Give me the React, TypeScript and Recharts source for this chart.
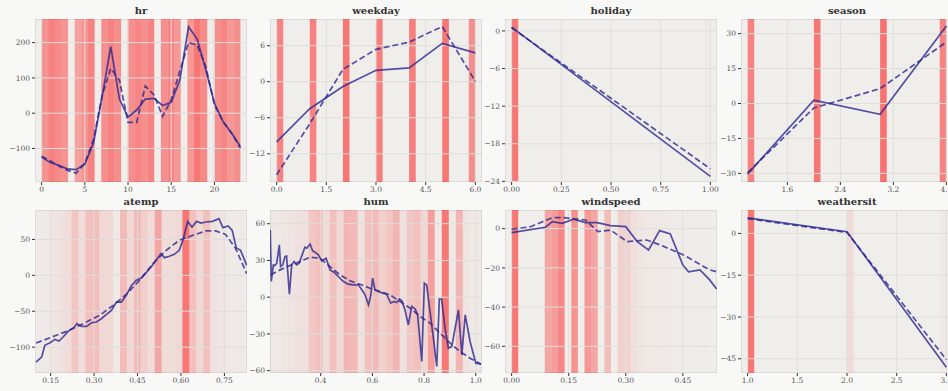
import React from 'react';
import { ComposedChart, Line, XAxis, YAxis, ReferenceArea, ReferenceLine } from 'recharts';

const FONT = '"DejaVu Serif", serif';
const LINE_COLOR = '#2b2790';
const BAND_COLOR = '#ff0000';
const GRID_COLOR = '#dfdedb';
const PLOT_BG = '#efeeeb';
const PAGE_BG = '#f8f8f7';
const TICK_COLOR = '#555555';

const COL_LEFT = [35, 270, 505, 741];
const ROW_TOP = [19, 210];
const PLOT_W = 212;
const PLOT_H = 163;
const Y_W = 34;
const X_H = 16;
const R_PAD = 14; // room for the last x tick label

// ---- hr ----
const HR_X = [0, 1, 2, 3, 4, 5, 6, 7, 8, 9, 10, 11, 12, 13, 14, 15, 16, 17, 18, 19, 20, 21, 22, 23];
const HR_FIT = [-124, -140, -148, -158, -160, -144, -85, 47, 189, 40, -11, 9, 40, 42, 22, 31, 94, 245, 210, 123, 28, -24, -57, -94];
const HR_REF = [-122, -135, -150, -162, -170, -142, -75, 50, 127, 94, -26, -26, 77, 52, -9, 38, 120, 200, 193, 132, 24, -24, -57, -99];
const HR_BAND_ALPHA = [
  0.38, 0.46, 0.42, 0.38, 0, 0.32, 0.38, 0.45, 0, 0.4, 0.46, 0.4, 0, 0.4, 0.44,
  0.4, 0.45, 0, 0.4, 0.44, 0.36, 0, 0.36, 0.5, 0.42, 0, 0.4, 0.44, 0.36, 0.4,
];

// ---- weekday ----
const WEEKDAY_X = [0, 1, 2, 3, 4, 5, 6];
const WEEKDAY_FIT = [-10.0, -4.5, -0.8, 1.9, 2.3, 6.4, 4.8];
const WEEKDAY_REF = [-15.5, -7.0, 2.05, 5.4, 6.6, 9.2, 0.05];
const WEEKDAY_BAND_EDGE = [0, 1, 2, 3, 4, 5, 5.8];
const WEEKDAY_BAND_ALPHA = [0.45, 0.45, 0.5, 0.47, 0.47, 0.5, 0.4];

// ---- holiday ----
const HOLIDAY_X = [0, 1];
const HOLIDAY_FIT = [0.6, -23.2];
const HOLIDAY_REF = [0.5, -22.0];
const HOLIDAY_BAND_EDGE = [0, 0.9667];
const HOLIDAY_BAND_ALPHA = [0.5, 0.01];

// ---- season ----
const SEASON_X = [1, 2, 3, 4];
const SEASON_FIT = [-30.3, 1.4, -4.6, 33.3];
const SEASON_REF = [-29.7, -1.9, 6.4, 26.4];
const SEASON_BAND_EDGE = [1, 2, 3, 3.9];
const SEASON_BAND_ALPHA = [0.45, 0.5, 0.52, 0.45];

// ---- atemp ----
const ATEMP_FIT_X = [
  0.0995, 0.119, 0.13, 0.148, 0.165, 0.179, 0.193, 0.21, 0.23, 0.241, 0.256, 0.274, 0.291, 0.308,
  0.325, 0.342, 0.36, 0.377, 0.394, 0.411, 0.428, 0.445, 0.463, 0.48, 0.497, 0.514, 0.531, 0.543,
  0.56, 0.577, 0.594, 0.608, 0.623, 0.638, 0.654, 0.669, 0.686, 0.709, 0.731, 0.745, 0.763, 0.777,
  0.791, 0.806, 0.827,
];
const ATEMP_FIT_Y = [
  -120.8, -113.8, -97.5, -93.8, -89.2, -91.5, -85.9, -78, -72.9, -67.3, -71.1, -71.1, -66, -65,
  -60.4, -54.8, -48.8, -37.2, -37.2, -27.9, -14.9, -7, -3.7, 3.7, 11.6, 20.9, 30.2, 24.6,
  26.5, 29.3, 34.8, 50.2, 75.2, 67.3, 75.2, 72.9, 74.3, 75.2, 79, 66.4, 68.7, 62.7,
  38.1, 34.8, 13.9,
];
const ATEMP_REF_X = [0.0995, 0.205, 0.262, 0.319, 0.366, 0.411, 0.457, 0.503, 0.549, 0.594, 0.64, 0.686, 0.72, 0.754, 0.789, 0.827];
const ATEMP_REF_Y = [-94.3, -78, -67.3, -55.7, -41.8, -26.5, -7, 16.3, 34.8, 48.8, 55.7, 61.8, 61.8, 57.1, 37.2, 2.3];
const ATEMP_BIN_START = 0.10235;
const ATEMP_BIN_WIDTH = 0.02393;
const ATEMP_BAND_ALPHA = [
  0.015, 0.015, 0.03, 0.05, 0.07, 0.17, 0.07, 0.19, 0.2, 0.09, 0.09, 0.02, 0.21, 0.09, 0.21,
  0.13, 0.07, 0.3, 0.07, 0.07, 0.09, 0.5, 0.19, 0.09, 0.19, 0.05, 0.03, 0.02, 0.015, 0.015,
];

// ---- hum ----
const HUM_FIT_X = [
  0.205, 0.209, 0.217, 0.223, 0.23, 0.24, 0.245, 0.253, 0.262, 0.268, 0.279, 0.288, 0.297, 0.307,
  0.317, 0.326, 0.339, 0.346, 0.359, 0.369, 0.378, 0.391, 0.404, 0.421, 0.436, 0.452, 0.468, 0.488,
  0.507, 0.526, 0.546, 0.559, 0.572, 0.585, 0.594, 0.601, 0.61, 0.623, 0.64, 0.655, 0.671, 0.684,
  0.694, 0.705, 0.714, 0.726, 0.739, 0.752, 0.765, 0.775, 0.791, 0.801, 0.81, 0.823, 0.836, 0.849,
  0.859, 0.868, 0.881, 0.894, 0.907, 0.933, 0.946, 0.959, 0.978, 1.0, 1.02,
];
const HUM_FIT_Y = [
  55, 13, 26.4, 25.9, 27.8, 42.7, 25, 26.4, 33.2, 33.7, 2.4, 26.4, 29.1, 26.4,
  27.8, 33.2, 40.8, 40, 43.3, 37.8, 36.7, 34.6, 29.7, 31.8, 22.3, 20.4, 16.9, 12.8,
  10.6, 10.1, 10.1, 6, 1.9, -6.3, 1.9, 15.5, 6, 4.6, 3.3, 2.4, -4.9, -3.5,
  -4.4, -1.4, -3, -10.3, -22.6, -7.6, -9.5, -14.4, -52.5, 11.4, 10, -11.7, -33.5, -56.6,
  -1.4, -1.6, -25.3, -41.6, -40.3, -10.3, -47.1, -14.4, -36.2, -53.9, -54.4,
];
const HUM_REF_X = [
  0.2065, 0.243, 0.281, 0.32, 0.359, 0.397, 0.436, 0.475, 0.514, 0.552, 0.591, 0.63, 0.668, 0.707,
  0.746, 0.785, 0.823, 0.862, 0.901, 0.939, 0.978, 1.02,
];
const HUM_REF_Y = [
  18.2, 22.3, 25.9, 29.1, 32.7, 31.8, 25, 18.2, 13.3, 10.6, 7.3, 4.6, 1.9, -3.5,
  -9, -15.8, -21.2, -29.4, -37.6, -44.4, -49.8, -54.8,
];
const HUM_BIN_START = 0.1909;
const HUM_BIN_WIDTH = 0.0271;
const HUM_BAND_ALPHA = [
  0.02, 0.02, 0.03, 0.04, 0.05, 0.06, 0.17, 0.19, 0.07, 0.19, 0.09, 0.24, 0.22, 0.05, 0.19, 0.21,
  0.12, 0.17, 0.24, 0.05, 0.16, 0.19, 0.09, 0.33, 0.02, 0.5, 0.02, 0.24, 0.04, 0.02, 0.02,
];

// ---- windspeed ----
const WIND_FIT_X = [0, 0.089, 0.107, 0.133, 0.163, 0.194, 0.225, 0.26, 0.3, 0.33, 0.36, 0.389, 0.417, 0.45, 0.465, 0.495, 0.52, 0.539];
const WIND_FIT_Y = [-2.0, 0.7, 3.6, 2.7, 4.8, 3.1, 3.1, 1.5, 1.0, -6.6, -10.9, -1.0, -2.7, -18.5, -22, -21, -26, -30.8];
const WIND_REF_X = [0, 0.05, 0.107, 0.137, 0.194, 0.227, 0.26, 0.303, 0.355, 0.39, 0.452, 0.52, 0.539];
const WIND_REF_Y = [-0.3, 1.0, 5.6, 5.6, 4.4, -1.5, -0.7, -6.6, -5.8, -8.3, -13.4, -21, -22];
const WIND_BIN_START = 0;
const WIND_BIN_WIDTH = 0.017413;
const WIND_BAND_ALPHA = [
  0.5, 0, 0, 0, 0, 0.3, 0.34, 0.43, 0, 0.38, 0, 0.36, 0.3, 0, 0.2,
  0, 0.12, 0.11, 0.06, 0.035, 0.025, 0.02, 0.018, 0.015, 0.012, 0.01, 0.01, 0.008, 0.008, 0.008,
];

// ---- weathersit ----
const WEATHER_X = [1, 2, 3];
const WEATHER_FIT = [5.6, 0.6, -48];
const WEATHER_REF = [5.3, 0.35, -45.3];
const WEATHER_BAND_EDGE = [1, 2, 2.9333];
const WEATHER_BAND_ALPHA = [0.5, 0.08, 0.02];

type Pt = { x: number; y: number };
type Band = { x1: number; x2: number; a: number };
type Panel = {
  title: string;
  col: number;
  row: number;
  xDomain: [number, number];
  xTicks: number[];
  xDigits: number;
  yDomain: [number, number];
  yTicks: number[];
  bands: Band[];
  fit: Pt[];
  ref: Pt[];
};

const pts = (x: number[], y: number[]): Pt[] => x.map((v, i) => ({ x: v, y: y[i] }));
const binBands = (start: number, width: number, alpha: number[]): Band[] =>
  alpha.map((a, i) => ({ x1: start + i * width, x2: start + (i + 1) * width, a })).filter((b) => b.a > 0);
const edgeBands = (edges: number[], width: number, alpha: number[]): Band[] =>
  edges.map((e, i) => ({ x1: e, x2: e + width, a: alpha[i] }));
const fmt = (digits: number) => (v: number) => v.toFixed(digits).replace('-', '\u2212');

const PANELS: Panel[] = [
  {
    title: 'hr', col: 0, row: 0,
    xDomain: [-0.767, 23.767], xTicks: [0, 5, 10, 15, 20], xDigits: 0,
    yDomain: [-195, 267], yTicks: [-100, 0, 100, 200],
    bands: binBands(0, 23 / 30, HR_BAND_ALPHA),
    fit: pts(HR_X, HR_FIT), ref: pts(HR_X, HR_REF),
  },
  {
    title: 'weekday', col: 1, row: 0,
    xDomain: [-0.2, 6.2], xTicks: [0, 1.5, 3, 4.5, 6], xDigits: 1,
    yDomain: [-16.7, 10.45], yTicks: [-12, -6, 0, 6],
    bands: edgeBands(WEEKDAY_BAND_EDGE, 0.2, WEEKDAY_BAND_ALPHA),
    fit: pts(WEEKDAY_X, WEEKDAY_FIT), ref: pts(WEEKDAY_X, WEEKDAY_REF),
  },
  {
    title: 'holiday', col: 2, row: 0,
    xDomain: [-0.0333, 1.0333], xTicks: [0, 0.25, 0.5, 0.75, 1], xDigits: 2,
    yDomain: [-24.1, 1.9], yTicks: [-24, -18, -12, -6, 0],
    bands: edgeBands(HOLIDAY_BAND_EDGE, 1 / 30, HOLIDAY_BAND_ALPHA),
    fit: pts(HOLIDAY_X, HOLIDAY_FIT), ref: pts(HOLIDAY_X, HOLIDAY_REF),
  },
  {
    title: 'season', col: 3, row: 0,
    xDomain: [0.9, 4.1], xTicks: [1.6, 2.4, 3.2, 4], xDigits: 1,
    yDomain: [-33.7, 36.3], yTicks: [-30, -15, 0, 15, 30],
    bands: edgeBands(SEASON_BAND_EDGE, 0.1, SEASON_BAND_ALPHA),
    fit: pts(SEASON_X, SEASON_FIT), ref: pts(SEASON_X, SEASON_REF),
  },
  {
    title: 'atemp', col: 0, row: 1,
    xDomain: [0.096, 0.828], xTicks: [0.15, 0.3, 0.45, 0.6, 0.75], xDigits: 2,
    yDomain: [-136, 91], yTicks: [-100, -50, 0, 50],
    bands: binBands(ATEMP_BIN_START, ATEMP_BIN_WIDTH, ATEMP_BAND_ALPHA),
    fit: pts(ATEMP_FIT_X, ATEMP_FIT_Y), ref: pts(ATEMP_REF_X, ATEMP_REF_Y),
  },
  {
    title: 'hum', col: 1, row: 1,
    xDomain: [0.204, 1.024], xTicks: [0.4, 0.6, 0.8, 1.0], xDigits: 1,
    yDomain: [-61.9, 71.2], yTicks: [-60, -30, 0, 30, 60],
    bands: binBands(HUM_BIN_START, HUM_BIN_WIDTH, HUM_BAND_ALPHA),
    fit: pts(HUM_FIT_X, HUM_FIT_Y), ref: pts(HUM_REF_X, HUM_REF_Y),
  },
  {
    title: 'windspeed', col: 2, row: 1,
    xDomain: [-0.0174, 0.5398], xTicks: [0, 0.15, 0.3, 0.45], xDigits: 2,
    yDomain: [-73.6, 9.5], yTicks: [-60, -40, -20, 0],
    bands: binBands(WIND_BIN_START, WIND_BIN_WIDTH, WIND_BAND_ALPHA),
    fit: pts(WIND_FIT_X, WIND_FIT_Y), ref: pts(WIND_REF_X, WIND_REF_Y),
  },
  {
    title: 'weathersit', col: 3, row: 1,
    xDomain: [0.9333, 3.0667], xTicks: [1, 1.5, 2, 2.5, 3], xDigits: 1,
    yDomain: [-50.1, 8.4], yTicks: [-45, -30, -15, 0],
    bands: edgeBands(WEATHER_BAND_EDGE, 2 / 30, WEATHER_BAND_ALPHA),
    fit: pts(WEATHER_X, WEATHER_FIT), ref: pts(WEATHER_X, WEATHER_REF),
  },
];

const tickStyle = { fontSize: 7.5, fill: TICK_COLOR, fontFamily: FONT };

function PartialPlot({ p }: { p: Panel }) {
  const left = COL_LEFT[p.col];
  const top = ROW_TOP[p.row];
  return (
    <>
      <div
        style={{
          position: 'absolute', left, top, width: PLOT_W, height: PLOT_H,
          background: PLOT_BG, boxShadow: 'inset 0 0 0 1px #dcdbd7',
        }}
      />
      <div
        style={{
          position: 'absolute', left, top: top - 14, width: PLOT_W, height: 12,
          lineHeight: '12px', textAlign: 'center', fontFamily: FONT,
          fontWeight: 'bold', fontSize: 10, color: '#333',
        }}
      >
        {p.title}
      </div>
      <div style={{ position: 'absolute', left: left - Y_W, top }}>
        <ComposedChart
          width={Y_W + PLOT_W + R_PAD}
          height={PLOT_H + X_H}
          margin={{ top: 0, right: R_PAD, bottom: 0, left: 0 }}
        >
          <XAxis
            type="number" dataKey="x" domain={p.xDomain} ticks={p.xTicks} interval={0}
            allowDataOverflow height={X_H} axisLine={false} tickSize={3}
            tickLine={{ stroke: '#333' }} tick={tickStyle} tickFormatter={fmt(p.xDigits)}
          />
          <YAxis
            type="number" domain={p.yDomain} ticks={p.yTicks} interval={0}
            allowDataOverflow width={Y_W} axisLine={false} tickSize={3}
            tickLine={{ stroke: '#333' }} tick={tickStyle} tickFormatter={fmt(0)}
          />
          {p.bands.map((b, i) => (
            <ReferenceArea
              key={'b' + i} x1={b.x1} x2={b.x2} fill={BAND_COLOR} fillOpacity={b.a}
              stroke="none" ifOverflow="hidden"
            />
          ))}
          {p.xTicks.map((t) => (
            <ReferenceLine key={'gx' + t} x={t} stroke={GRID_COLOR} strokeWidth={1} ifOverflow="hidden" />
          ))}
          {p.yTicks.map((t) => (
            <ReferenceLine key={'gy' + t} y={t} stroke={GRID_COLOR} strokeWidth={1} ifOverflow="hidden" />
          ))}
          <Line
            data={p.fit} dataKey="y" type="linear" dot={false} stroke={LINE_COLOR}
            strokeOpacity={0.8} strokeWidth={1.7} isAnimationActive={false}
          />
          <Line
            data={p.ref} dataKey="y" type="linear" dot={false} stroke={LINE_COLOR}
            strokeOpacity={0.8} strokeWidth={1.7} strokeDasharray="6 3" isAnimationActive={false}
          />
        </ComposedChart>
      </div>
    </>
  );
}

export default function App() {
  return (
    <div
      style={{
        position: 'absolute', left: 0, top: 0, width: 948, height: 391,
        overflow: 'hidden', background: PAGE_BG,
      }}
    >
      {PANELS.map((p) => (
        <PartialPlot key={p.title} p={p} />
      ))}
    </div>
  );
}
